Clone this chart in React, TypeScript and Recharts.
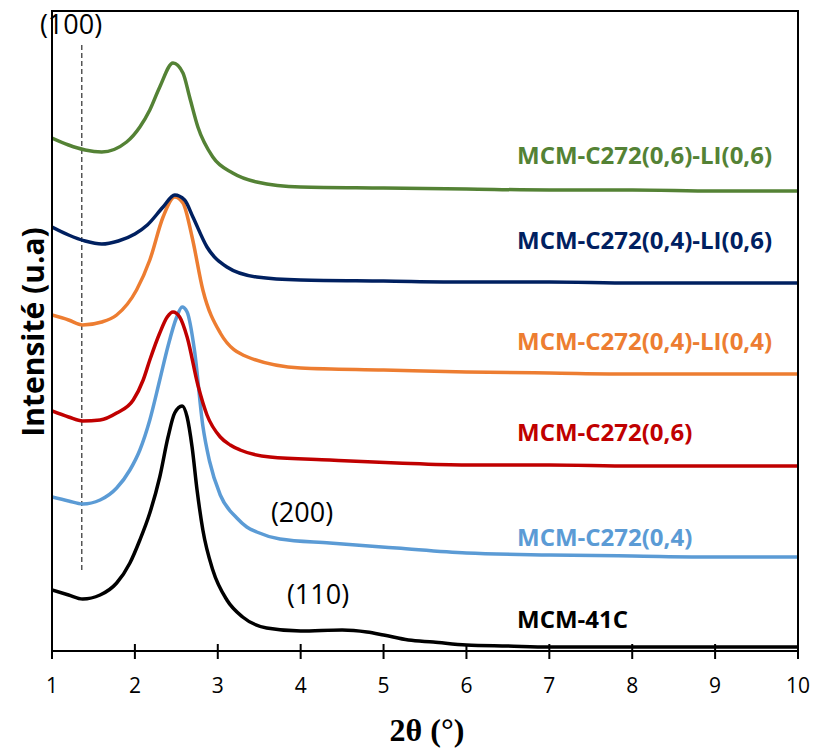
import React from 'react';
import { LineChart, Line, XAxis, YAxis, ReferenceLine } from 'recharts';

// 2θ positions and intensities (u.a), one pair of arrays per sample
const mcm41cX = [1.0, 1.2, 1.37, 1.58, 1.78, 1.94, 2.06, 2.18, 2.3, 2.4, 2.48, 2.57, 2.63, 2.69, 2.75, 2.82, 2.94, 3.11, 3.3, 3.59, 4.0, 4.5, 4.8, 5.0, 5.3, 5.6, 6.0, 6.5, 7, 8, 9, 10];
const mcm41cY = [61, 56, 52, 56, 68, 88, 111, 138, 174, 214, 238, 245, 234, 204, 161, 121, 81, 51, 34, 23, 20, 21, 19, 16, 11, 9, 6, 5, 4, 4, 4, 4];

const c272_04X = [1.0, 1.2, 1.37, 1.58, 1.78, 1.94, 2.06, 2.18, 2.3, 2.4, 2.5, 2.57, 2.63, 2.72, 2.82, 2.9, 3.03, 3.23, 3.35, 3.47, 3.75, 4.35, 5.16, 6.0, 7, 8, 9, 10];
const c272_04Y = [154, 150, 147, 151, 163, 181, 201, 231, 271, 305, 333, 344, 339, 300, 225, 190, 156, 133, 124, 119, 112, 108, 103, 98, 96, 95, 94, 94];

const c272_06X = [1.0, 1.2, 1.37, 1.58, 1.78, 1.98, 2.1, 2.18, 2.3, 2.39, 2.46, 2.54, 2.63, 2.76, 2.87, 3.03, 3.15, 3.27, 3.63, 4.35, 5.16, 6, 7, 8, 9, 10];
const c272_06Y = [240, 234, 230, 231, 238, 251, 271, 291, 318, 334, 339, 334, 314, 266, 236, 214, 206, 201, 194, 191, 188, 186, 186, 185, 185, 185];

const li04X = [1.0, 1.2, 1.37, 1.6, 1.78, 2.02, 2.18, 2.34, 2.48, 2.58, 2.69, 2.82, 3.03, 3.36, 4.0, 5, 6, 7, 8, 9, 10];
const li04Y = [336, 331, 326, 329, 336, 361, 391, 434, 454, 448, 414, 361, 318, 294, 283, 281, 279, 278, 277, 277, 277];

const li0406X = [1.0, 1.2, 1.4, 1.6, 1.8, 2.0, 2.15, 2.34, 2.48, 2.6, 2.7, 2.87, 3.11, 3.47, 4.0, 5, 6, 7, 8, 9, 10];
const li0406Y = [424, 416, 410, 407, 410, 417, 426, 444, 456, 451, 434, 404, 384, 374, 371, 370, 369, 369, 368, 368, 368];

const li0606X = [1.0, 1.2, 1.4, 1.6, 1.9, 2.06, 2.18, 2.3, 2.46, 2.58, 2.66, 2.76, 2.94, 3.18, 3.47, 4.0, 5, 6, 7, 8, 9, 10];
const li0606Y = [513, 506, 501, 499, 509, 524, 541, 564, 588, 578, 554, 524, 494, 478, 469, 464, 463, 462, 461, 461, 460, 460];

const xTicks = [1, 2, 3, 4, 5, 6, 7, 8, 9, 10];
const peakPosition = 1.36;

const W = 815;
const H = 749;
const PLOT_LEFT = 52;
const PLOT_RIGHT = 798;
const PLOT_TOP = 11;
const PLOT_BOTTOM = 651;

const toRows = (xs: number[], ys: number[]) => xs.map((x, i) => ({ x, y: ys[i] }));

const series = [
  { name: 'MCM-41C', color: '#000000', data: toRows(mcm41cX, mcm41cY), labelY: 628 },
  { name: 'MCM-C272(0,4)', color: '#5B9BD5', data: toRows(c272_04X, c272_04Y), labelY: 546 },
  { name: 'MCM-C272(0,6)', color: '#C00000', data: toRows(c272_06X, c272_06Y), labelY: 441 },
  { name: 'MCM-C272(0,4)-LI(0,4)', color: '#ED7D31', data: toRows(li04X, li04Y), labelY: 350 },
  { name: 'MCM-C272(0,4)-LI(0,6)', color: '#002060', data: toRows(li0406X, li0406Y), labelY: 249 },
  { name: 'MCM-C272(0,6)-LI(0,6)', color: '#548235', data: toRows(li0606X, li0606Y), labelY: 164 },
];

const XTick = (props: any) => {
  const { x, payload } = props;
  return (
    <g>
      <line x1={x} x2={x} y1={PLOT_BOTTOM - 7} y2={PLOT_BOTTOM + 8} stroke="#000" strokeWidth={2} />
      <text x={x} y={PLOT_BOTTOM + 42} textAnchor="middle" fontSize={21} fontFamily="Open Sans" fill="#000">
        {payload.value}
      </text>
    </g>
  );
};

export default function App() {
  return (
    <div style={{ position: 'absolute', left: 0, top: 0, width: W, height: H, background: '#fff' }}>
      <LineChart width={W} height={H} margin={{ top: PLOT_TOP, right: W - PLOT_RIGHT, bottom: H - PLOT_BOTTOM - 60, left: PLOT_LEFT }}>
        <XAxis
          dataKey="x"
          type="number"
          domain={[1, 10]}
          ticks={xTicks}
          allowDataOverflow
          height={60}
          tickLine={false}
          tick={<XTick />}
          axisLine={{ stroke: '#000', strokeWidth: 2 }}
        />
        <YAxis type="number" domain={[0, 640]} width={0} tick={false} tickLine={false} axisLine={{ stroke: '#000', strokeWidth: 2 }} />
        <ReferenceLine
          segment={[{ x: peakPosition, y: 606 }, { x: peakPosition, y: 78 }]}
          stroke="#000"
          strokeWidth={1}
          strokeDasharray="5 3"
          ifOverflow="visible"
        />
        {series.map((s) => (
          <Line
            key={s.name}
            data={s.data}
            dataKey="y"
            type="monotone"
            stroke={s.color}
            strokeWidth={3.5}
            dot={false}
            isAnimationActive={false}
          />
        ))}
      </LineChart>
      <svg width={W} height={H} style={{ position: 'absolute', left: 0, top: 0, pointerEvents: 'none' }}>
        <rect
          x={PLOT_LEFT}
          y={PLOT_TOP}
          width={PLOT_RIGHT - PLOT_LEFT}
          height={PLOT_BOTTOM - PLOT_TOP}
          fill="none"
          stroke="#000"
          strokeWidth={2}
        />
        {series.map((s) => (
          <text key={s.name} x={517} y={s.labelY} fill={s.color} fontSize={24} fontWeight="bold" fontFamily="Open Sans">
            {s.name}
          </text>
        ))}
        <text x={71} y={34} textAnchor="middle" fontSize={27} fontFamily="Open Sans">(100)</text>
        <text x={302} y={522} textAnchor="middle" fontSize={27} fontFamily="Open Sans">(200)</text>
        <text x={318} y={604} textAnchor="middle" fontSize={27} fontFamily="Open Sans">(110)</text>
        <text
          transform="translate(44, 332) rotate(-90)"
          textAnchor="middle"
          fontSize={30}
          fontWeight="bold"
          fontFamily="Open Sans"
        >
          Intensité (u.a)
        </text>
        <text x={427} y={741} textAnchor="middle" fontSize={32} fontWeight="bold" fontFamily="Liberation Serif">
          2θ (°)
        </text>
      </svg>
    </div>
  );
}
